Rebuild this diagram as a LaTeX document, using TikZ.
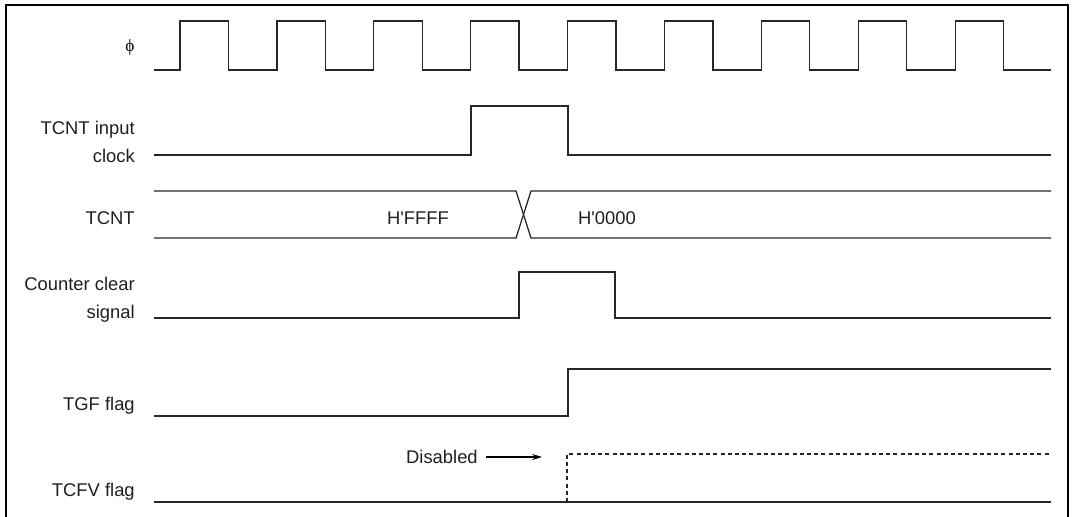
\documentclass[tikz,border=0pt]{standalone}
\usepackage{fontspec}
\setmainfont{Liberation Sans}[Ligatures=TeXOff]
\newfontfamily\phifont{Liberation Serif}
\usetikzlibrary{arrows.meta}

\begin{document}
\begin{tikzpicture}[x=0.75pt,y=-0.75pt,>={Stealth[length=2.6mm,width=1.6mm]},line cap=butt,line join=miter]
\useasboundingbox (0,0) rectangle (1072,517);
\clip (0,0) rectangle (1072,517);
\tikzset{wave/.style={line width=0.95pt,draw=black!85},
  lbl/.style={anchor=base east,inner sep=0pt,font=\fontsize{13.8}{21}\selectfont,align=right,text=black!88},
  val/.style={anchor=base,inner sep=0pt,font=\fontsize{13.8}{16}\selectfont,text=black!88}}
% frame
\draw[line width=1.6pt] (6,530) -- (6,5) -- (1068,5) -- (1068,530);
% phi
\node[anchor=center,inner sep=0pt,font=\phifont\fontsize{13}{15}\selectfont] (phi) at (130,47) {ϕ};
\draw[wave] (154,70) \foreach \i in {0,...,8} {-- ({180+96.9*\i},70) -- ++(0,-49) -- ++(48.4,0) -- ++(0,49)} -- (1051,70);
% TCNT input clock
\node[lbl] (inclk) at (135,162) {TCNT input\\clock};
\draw[wave] (154,155) -- (471,155) -- (471,106) -- (568,106) -- (568,155) -- (1051,155);
% TCNT
\node[lbl] (tcnt) at (135,224) {TCNT};
\draw[wave] (154,191) -- (516,191) -- (531,238) -- (1051,238);
\draw[wave] (154,238) -- (516,238) -- (531,191) -- (1051,191);
\node[val] (ffff) at (418,224) {H'FFFF};
\node[val] (zero) at (607,224) {H'0000};
% counter clear signal
\node[lbl] (clr) at (135,318) {Counter clear\\signal};
\draw[wave] (154,318) -- (519,318) -- (519,272) -- (615,272) -- (615,318) -- (1051,318);
% TGF flag
\node[lbl] (tgf) at (135,410) {TGF flag};
\draw[wave] (154,416) -- (568,416) -- (568,369) -- (1051,369);
% TCFV flag
\node[lbl] (tcfv) at (135,496) {TCFV flag};
\draw[wave] (154,502) -- (1051,502);
\draw[wave,line width=0.8pt,dash pattern=on 3pt off 2.4pt] (567,502) -- (567,454) -- (1051,454);
\node[lbl] (dis) at (478,463) {Disabled};
\coordinate (distip) at (542,457);
\draw[->,line width=0.8pt] ([xshift=6pt]dis.east |- distip) -- (distip);
\end{tikzpicture}
\end{document}
